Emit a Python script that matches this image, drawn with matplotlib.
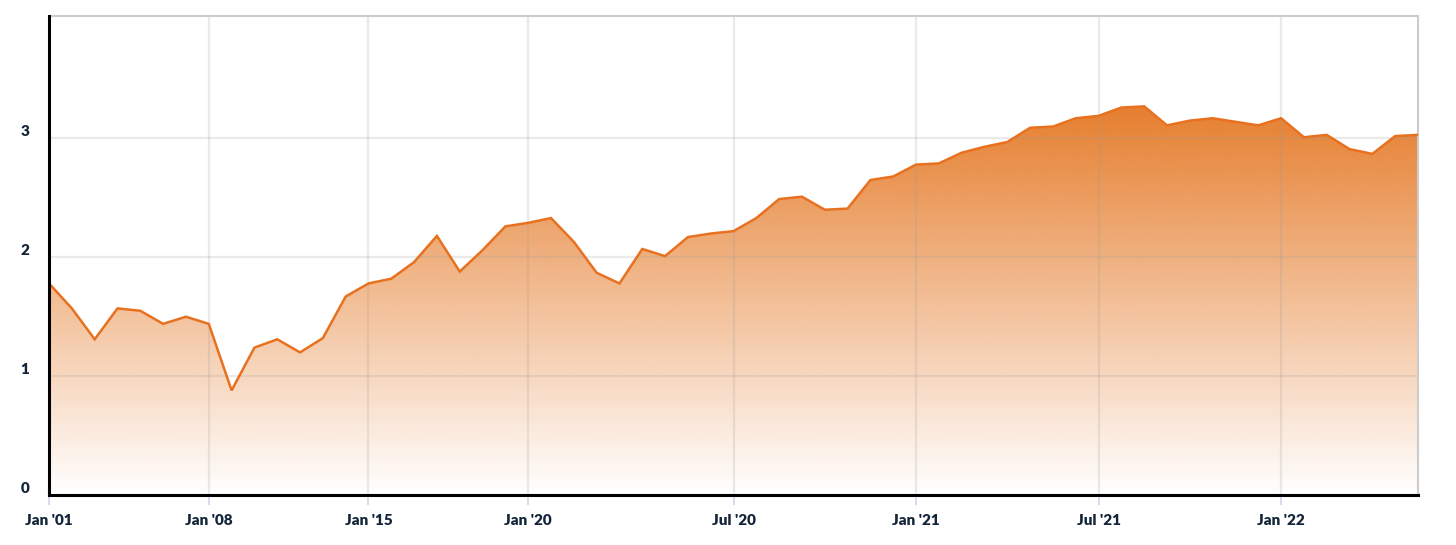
import matplotlib
matplotlib.use('Agg')
import matplotlib.pyplot as plt
import matplotlib.transforms as mtransforms
import numpy as np

# values (one point per period, evenly spaced categories)
values = [1.78, 1.57, 1.31, 1.57, 1.55, 1.44, 1.50, 1.44, 0.88, 1.24,
          1.31, 1.20, 1.32, 1.67, 1.78, 1.82, 1.96, 2.18, 1.88, 2.06,
          2.26, 2.29, 2.33, 2.13, 1.87, 1.78, 2.07, 2.01, 2.17, 2.20,
          2.22, 2.33, 2.49, 2.51, 2.40, 2.41, 2.65, 2.68, 2.78, 2.79,
          2.88, 2.93, 2.97, 3.09, 3.10, 3.17, 3.19, 3.26, 3.27, 3.11,
          3.15, 3.17, 3.14, 3.11, 3.17, 3.01, 3.03, 2.91, 2.87, 3.02,
          3.03]
tick_idx = [0, 7, 14, 21, 30, 38, 46, 54]
tick_labels = ["Jan '01", "Jan '08", "Jan '15", "Jan '20", "Jul '20", "Jan '21", "Jul '21", "Jan '22"]
y_ticks = [0, 1, 2, 3]

plt.rcParams['font.family'] = ['Lato', 'DejaVu Sans']

fig = plt.figure(figsize=(14.56, 5.45), dpi=100)
ax = fig.add_axes([0.0337, 0.0917, 0.9402, 0.8789])

x = np.arange(len(values))
ymax = 4.03
ax.set_xlim(0, len(values) - 1)
ax.set_ylim(0, ymax)

# gradient fill clipped to the area under the line
poly = ax.fill_between(x, values, 0, color='none', lw=0)
orange = np.array([230, 126, 46]) / 255.0
top = max(values)
grad = np.zeros((256, 2, 4))
a = np.linspace(1, 0, 256)
grad[:, :, :3] = orange
grad[:, :, 3] = a[:, None]
img = ax.imshow(grad, extent=[0, len(values) - 1, 0, top], aspect='auto',
                origin='upper', zorder=1, interpolation='bilinear')
img.set_clip_path(poly.get_paths()[0], transform=ax.transData)

# grid lines on top of the fill, faint
for yt in y_ticks[1:]:
    ax.axhline(yt, color=(0.6, 0.6, 0.6), alpha=0.2, lw=1.6, zorder=2)
for xt in tick_idx[1:]:
    ax.axvline(xt, color=(0.6, 0.6, 0.6), alpha=0.2, lw=1.6, zorder=2)

ax.plot(x, values, color='#E8711F', lw=1.8, zorder=3, solid_joinstyle='miter')

for s in ['top', 'right']:
    ax.spines[s].set_color('#cccccc')
    ax.spines[s].set_linewidth(1.5)
for s in ['left', 'bottom']:
    ax.spines[s].set_color('black')
    ax.spines[s].set_linewidth(2.2)
    ax.spines[s].set_zorder(4)

ax.set_xticks(tick_idx)
ax.set_xticklabels(tick_labels, fontsize=11, fontweight='heavy', color='#14253a')
ax.tick_params(axis='x', length=7.5, width=1.2, color='#ccd6eb', pad=6)

ax.set_yticks(y_ticks)
ax.set_yticklabels([str(v) for v in y_ticks], fontsize=11, fontweight='heavy', color='#14253a')
ax.tick_params(axis='y', length=0, pad=14)
shift = mtransforms.ScaledTranslation(0, 8 / 100.0, fig.dpi_scale_trans)
for lab in ax.get_yticklabels():
    lab.set_transform(lab.get_transform() + shift)

fig.savefig('out.png', dpi=100)
